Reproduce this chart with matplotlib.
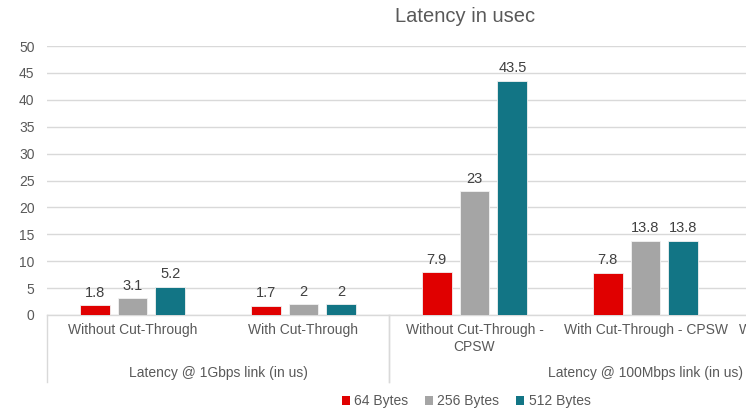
import matplotlib
matplotlib.use("Agg")
import matplotlib.pyplot as plt
from matplotlib.patches import Patch
import numpy as np

plt.rcParams["font.family"] = ["Liberation Sans", "DejaVu Sans"]

# chart data (the reference is cropped on the right, last category has no visible bars)
categories = [
    "Without Cut-Through",
    "With Cut-Through",
    "Without Cut-Through -\nCPSW",
    "With Cut-Through - CPSW",
    "With Cut-Through - ICSS",
]
groups = ["Latency @ 1Gbps link (in us)", "Latency @ 100Mbps link (in us)"]
group_spans = [(0, 1), (2, 4)]
series_names = ["64 Bytes", "256 Bytes", "512 Bytes"]
bytes_64 = [1.8, 1.7, 7.9, 7.8, np.nan]
bytes_256 = [3.1, 2.0, 23.0, 13.8, np.nan]
bytes_512 = [5.2, 2.0, 43.5, 13.8, np.nan]
colors = ["#E00000", "#A5A5A5", "#127585"]

W, H = 746, 409
fig = plt.figure(figsize=(W / 100, H / 100), dpi=100)
cat_px = 171
ax = fig.add_axes([47 / W, 94 / H, len(categories) * cat_px / W, 269 / H])

x = np.arange(len(categories))
bar_w = 0.175
step = 0.222
text_col = "#595959"
grid_col = "#D9D9D9"

for k, (vals, col) in enumerate(zip([bytes_64, bytes_256, bytes_512], colors)):
    pos = x + (k - 1) * step
    ax.bar(pos, vals, width=bar_w, color=col, edgecolor="#f2f2f2",
           linewidth=0.6, zorder=3)
    for p, v in zip(pos, vals):
        if np.isnan(v):
            continue
        ax.annotate(f"{v:g}", xy=(p, v), xytext=(0, 4), textcoords="offset points",
                    ha="center", va="bottom", fontsize=10.5, color="#404040")

ax.set_xlim(-0.5, len(categories) - 0.5)
ax.set_ylim(0, 50)
ax.set_yticks(np.arange(0, 51, 5))
ax.tick_params(axis="y", length=0, pad=9, labelsize=10, labelcolor=text_col)
ax.set_xticks([])
ax.yaxis.grid(True, color=grid_col, linewidth=1)
ax.set_axisbelow(True)
for s in ["top", "right", "left"]:
    ax.spines[s].set_visible(False)
ax.spines["bottom"].set_color(grid_col)
ax.spines["bottom"].set_linewidth(1)

trans = ax.get_xaxis_transform()
for i, lab in enumerate(categories):
    ax.annotate(lab, xy=(i, 0), xycoords=trans, xytext=(0, -6),
                textcoords="offset points", ha="center", va="top",
                fontsize=10, color=text_col, linespacing=1.25)

for lab, (a, b) in zip(groups, group_spans):
    ax.annotate(lab, xy=((a + b) / 2, 0), xycoords=trans, xytext=(0, -42),
                textcoords="offset points", ha="center", va="center",
                fontsize=10, color=text_col)
    for edge in (a - 0.5, b + 0.5):
        ax.plot([edge, edge], [0, -67 / 269], transform=trans, color=grid_col,
                linewidth=1, clip_on=False)

fig.text(465 / W, 1 - 16 / H, "Latency in usec", ha="center", va="center",
         fontsize=14.5, color=text_col)

handles = [Patch(facecolor=c, edgecolor="none") for c in colors]
fig.legend(handles, series_names, loc="center", bbox_to_anchor=(466 / W, 1 - 401 / H),
           ncol=3, frameon=False, fontsize=10, labelcolor=text_col,
           handlelength=0.6, handleheight=0.6, handletextpad=0.3, columnspacing=1.2)

fig.savefig("out.png", dpi=100)
